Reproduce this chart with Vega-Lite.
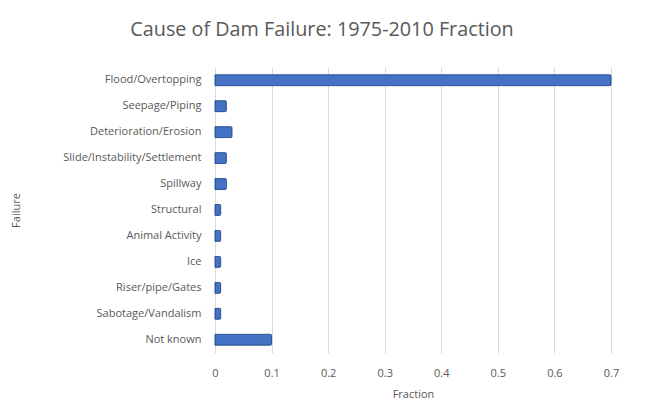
{
  "$schema": "https://vega.github.io/schema/vega-lite/v6.json",
  "autosize": {"type": "none"},
  "width": 396,
  "height": 286,
  "padding": {"left": 215, "top": 67, "right": 36, "bottom": 61},
  "background": "white",
  "config": {
    "view": {"stroke": null},
    "font": "Open Sans",
    "axis": {"labelColor": "#595959", "titleColor": "#595959", "labelFont": "Open Sans", "titleFont": "Open Sans", "titleFontWeight": "normal", "labelFontSize": 11, "titleFontSize": 11}
  },
  "title": {
    "text": "Cause of Dam Failure: 1975-2010 Fraction",
    "fontSize": 19.8,
    "fontWeight": "normal",
    "color": "#595959",
    "font": "Open Sans",
    "anchor": "middle",
    "dx": -91,
    "offset": 27
  },
  "data": {
    "values": [
      {"Failure": "Flood/Overtopping", "Fraction": 0.70},
      {"Failure": "Seepage/Piping", "Fraction": 0.02},
      {"Failure": "Deterioration/Erosion", "Fraction": 0.03},
      {"Failure": "Slide/Instability/Settlement", "Fraction": 0.02},
      {"Failure": "Spillway", "Fraction": 0.02},
      {"Failure": "Structural", "Fraction": 0.01},
      {"Failure": "Animal Activity", "Fraction": 0.01},
      {"Failure": "Ice", "Fraction": 0.01},
      {"Failure": "Riser/pipe/Gates", "Fraction": 0.01},
      {"Failure": "Sabotage/Vandalism", "Fraction": 0.01},
      {"Failure": "Not known", "Fraction": 0.10}
    ]
  },
  "mark": {"type": "bar", "color": "#4472C4", "stroke": "#2F5597", "strokeWidth": 1, "cornerRadiusEnd": 1},
  "encoding": {
    "y": {
      "field": "Failure",
      "type": "nominal",
      "sort": null,
      "scale": {"paddingInner": 0.58, "paddingOuter": 0.3},
      "axis": {"title": "Failure", "ticks": false, "domain": false, "labelPadding": 14, "titleX": -194, "titleY": 143, "titleAngle": -90, "labelLimit": 300}
    },
    "x": {
      "field": "Fraction",
      "type": "quantitative",
      "scale": {"domain": [0, 0.7], "nice": false},
      "axis": {"title": "Fraction", "values": [0, 0.1, 0.2, 0.3, 0.4, 0.5, 0.6, 0.7], "labelOverlap": false, "labelFlush": false, "ticks": false, "domain": false, "grid": true, "gridColor": "#d9d9d9", "labelPadding": 14, "titlePadding": 10, "format": "~g"}
    }
  }
}
